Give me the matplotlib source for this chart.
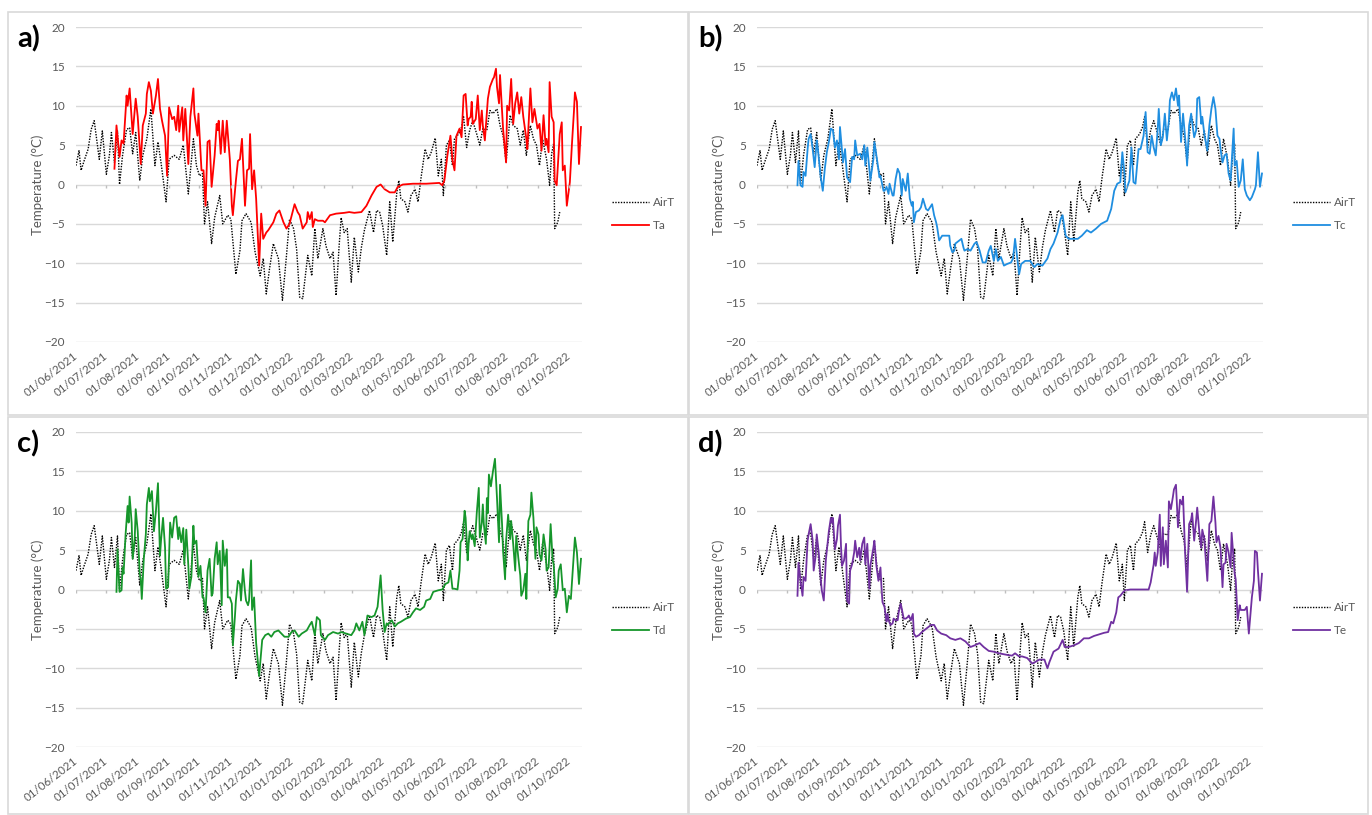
import numpy as np
import matplotlib
matplotlib.use("Agg")
import matplotlib.pyplot as plt
from matplotlib.patches import Rectangle

plt.rcParams["font.family"] = ["Lato", "DejaVu Sans"]

# all series; days counted from 01/06/2021
START = np.datetime64("2021-06-01")

airt_day = [0, 3, 5, 8, 12, 15, 18, 23, 26, 30, 33, 35, 38, 41, 43, 46, 50, 53, 56, 59,
            63, 66, 70, 74, 78, 81, 84, 89, 92, 97, 102, 106, 111, 116, 119, 122, 125, 127, 130, 134,
            137, 142, 145, 150, 153, 158, 162, 164, 168, 173, 177, 182, 185, 188, 191, 195, 200, 204, 208, 211,
            215, 218, 221, 224, 229, 233, 236, 239, 244, 247, 251, 254, 257, 260, 262, 265, 268, 272, 275, 279,
            282, 285, 290, 294, 297, 300, 303, 307, 310, 313, 317, 319, 321, 325, 328, 331, 335, 338, 341, 345,
            348, 351, 355, 358, 361, 363, 366, 369, 372, 374, 378, 381, 383, 386, 389, 392, 396, 399, 402, 406,
            409, 412, 416, 419, 422, 425, 429, 432, 436, 439, 442, 445, 449, 452, 455, 458, 461, 465, 468, 470,
            472, 473, 476, 478]
airt_val = [2.4, 4.3, 1.8, 3.0, 4.5, 7.0, 8.1, 3.2, 6.8, 1.3, 3.7, 6.6, 2.8, 6.8, 0.0, 3.7, 7.0, 7.2, 3.9, 6.6,
            0.5, 3.7, 5.8, 9.6, 2.4, 5.4, 2.8, -2.2, 3.2, 3.7, 3.2, 5.0, -1.2, 5.8, 2.4, 1.1, 1.4, -5.0, -2.2, -7.5,
            -4.2, -1.4, -5.0, -3.9, -4.4, -11.4, -8.4, -4.6, -3.7, -4.8, -8.6, -11.6, -9.4, -13.9, -10.9, -7.5, -9.4, -14.7, -9.0, -4.4,
            -5.6, -8.2, -14.3, -14.5, -9.0, -11.6, -5.6, -9.4, -5.6, -7.8, -9.4, -8.6, -14.1, -7.8, -4.2, -6.1, -5.6, -12.4, -6.7, -11.1,
            -8.0, -5.8, -3.3, -6.1, -3.3, -3.5, -5.2, -9.0, -2.2, -7.3, -1.0, 0.5, -1.8, -2.2, -3.5, -1.4, -0.6, -2.2, 0.9, 4.5,
            3.2, 4.1, 5.9, 1.1, 3.2, -1.4, 5.0, 5.6, 2.4, 5.8, 6.4, 7.3, 8.6, 4.7, 6.9, 8.1, 6.4, 5.0, 7.1, 6.9,
            9.4, 9.0, 9.6, 7.5, 6.2, 2.8, 8.8, 7.5, 7.1, 5.0, 6.9, 3.7, 7.5, 5.8, 5.0, 2.4, 5.8, 3.2, -0.1, 3.9,
            5.2, -5.6, -4.8, -3.5]

ta_day = [38, 40, 43, 45, 47, 50, 51, 53, 55, 56, 59, 61, 63, 64, 66, 69, 70, 72, 74, 76,
          79, 81, 83, 85, 88, 90, 92, 95, 97, 99, 101, 102, 105, 106, 108, 111, 113, 116, 117, 120,
          121, 124, 126, 128, 130, 132, 134, 137, 139, 140, 141, 143, 145, 147, 149, 152, 154, 155, 158, 160,
          162, 164, 167, 169, 171, 172, 174, 176, 178, 181, 183, 185, 188, 190, 195, 198, 201, 205, 208, 211,
          216, 219, 221, 224, 228, 229, 231, 233, 234, 236, 239, 244, 246, 251, 257, 265, 270, 275, 282, 287,
          292, 297, 301, 305, 310, 315, 318, 323, 333, 346, 359, 362, 364, 367, 370, 372, 374, 376, 379, 381,
          383, 385, 387, 388, 390, 391, 392, 395, 397, 399, 401, 402, 404, 407, 409, 412, 413, 415, 416, 418,
          419, 421, 422, 425, 426, 428, 430, 432, 434, 436, 438, 440, 442, 445, 446, 449, 451, 453, 456, 458,
          460, 462, 464, 465, 467, 468, 470, 472, 473, 475, 478, 480, 481, 483, 485, 488, 490, 492, 493, 495,
          497, 499]
ta_val = [2.0, 7.5, 3.5, 5.6, 5.2, 11.3, 10.0, 12.2, 8.3, 6.4, 10.9, 8.6, 4.7, 2.6, 7.5, 9.0, 11.5, 13.0, 11.9, 9.0,
          11.3, 13.4, 9.6, 8.1, 6.2, 1.1, 9.8, 8.3, 8.6, 6.9, 10.0, 6.7, 9.8, 5.6, 9.6, 2.6, 8.6, 12.2, 9.0, 6.2,
          9.0, 1.8, 1.8, -2.7, 5.4, 5.6, -0.3, 3.7, 7.7, 6.9, 8.1, 3.9, 8.1, 4.1, 8.1, 3.2, -2.7, -3.9, 0.5, 3.0,
          3.2, 5.8, -2.7, 1.8, 2.0, 6.4, -0.6, 1.8, -1.8, -10.3, -3.7, -6.9, -6.1, -5.8, -4.8, -3.7, -3.3, -4.8, -5.6, -5.0,
          -2.5, -3.5, -3.9, -5.6, -4.8, -3.5, -4.4, -3.5, -5.4, -4.4, -4.6, -4.6, -4.8, -3.9, -3.7, -3.6, -3.5, -3.6, -3.5, -2.7,
          -1.4, -0.3, 0.0, -0.6, -1.0, -1.0, -0.3, 0.0, 0.1, 0.1, 0.2, -0.1, 0.5, 3.7, 6.2, 3.1, 1.8, 6.2, 7.1, 6.0,
          11.3, 11.5, 7.5, 8.3, 8.6, 10.5, 7.7, 8.3, 11.3, 6.9, 9.4, 7.5, 5.6, 10.9, 12.4, 13.4, 13.6, 14.7, 12.4, 10.3,
          13.9, 9.2, 7.1, 2.8, 10.0, 9.4, 13.4, 7.7, 10.3, 11.7, 9.0, 11.1, 8.6, 5.8, 4.5, 12.2, 7.9, 9.6, 7.1, 7.7,
          4.3, 8.8, 5.0, 5.8, 4.1, 13.0, 8.6, 7.9, 0.5, -0.1, 6.4, 7.9, 1.8, 2.4, -2.7, 0.3, 5.0, 9.2, 11.7, 10.5,
          2.6, 7.3]

tc_day = [40, 41, 43, 45, 46, 48, 50, 51, 53, 55, 57, 59, 60, 63, 65, 67, 69, 71, 73, 75,
          77, 79, 81, 82, 84, 85, 87, 89, 92, 94, 96, 97, 99, 102, 104, 106, 107, 109, 111, 112,
          115, 116, 119, 121, 122, 125, 126, 128, 130, 131, 134, 135, 137, 139, 141, 143, 144, 147, 149, 151,
          153, 154, 155, 157, 160, 162, 164, 167, 169, 171, 173, 175, 177, 178, 180, 182, 183, 186, 188, 190,
          191, 193, 195, 196, 200, 202, 204, 205, 208, 211, 215, 217, 220, 223, 226, 229, 231, 234, 236, 238,
          241, 244, 247, 251, 253, 255, 256, 259, 261, 265, 270, 274, 277, 282, 287, 290, 293, 297, 300, 302,
          303, 305, 308, 313, 317, 321, 326, 330, 335, 340, 346, 350, 353, 356, 359, 361, 363, 364, 368, 370,
          372, 374, 377, 379, 382, 384, 386, 388, 390, 392, 394, 396, 397, 399, 401, 403, 405, 407, 408, 410,
          412, 414, 416, 417, 419, 421, 422, 424, 425, 427, 429, 430, 432, 434, 435, 437, 439, 440, 442, 445,
          447, 449, 451, 453, 455, 457, 458, 460, 462, 464, 466, 468, 471, 472, 474, 476, 478, 480, 482, 484,
          487, 489, 492, 493, 495, 497, 499]
tc_val = [-0.1, 3.0, -0.1, -0.3, 1.6, 1.1, 4.5, 5.8, 6.4, 4.5, 2.2, 5.6, 4.7, 0.9, -0.8, 2.0, 4.1, 5.4, 7.1, 6.9,
          4.7, 5.6, 3.2, 7.3, 4.3, 2.8, 4.5, 0.9, 0.3, 3.5, 3.2, 5.6, 3.7, 3.9, 3.2, 5.0, 2.4, 4.7, 2.0, 0.5,
          3.2, 5.4, 2.8, 0.9, 1.1, -0.8, -0.8, -0.3, -1.2, 0.1, -1.4, -1.4, 0.7, 2.0, 1.4, -1.4, 0.7, -0.8, 1.4, -1.8,
          -2.7, -2.2, -4.8, -3.5, -3.3, -2.9, -1.8, -3.1, -3.3, -2.9, -2.5, -3.9, -4.8, -5.4, -7.1, -6.7, -6.5, -6.5, -6.5, -6.5,
          -7.8, -8.6, -8.4, -7.5, -7.1, -6.9, -8.0, -8.4, -8.2, -8.4, -7.5, -7.3, -8.4, -9.9, -9.9, -8.4, -7.8, -9.7, -8.2, -9.7,
          -9.2, -10.3, -10.1, -9.9, -9.4, -6.9, -8.0, -11.4, -10.1, -9.7, -9.7, -10.5, -10.1, -10.3, -9.4, -8.2, -7.5, -6.1, -4.4, -3.9,
          -4.8, -6.5, -6.9, -6.9, -6.9, -6.5, -5.8, -6.1, -5.6, -5.0, -4.6, -3.1, -0.8, 0.1, 0.3, 4.1, 1.6, -1.0, 0.5, 4.7,
          0.3, 0.1, 4.5, 4.5, 6.2, 9.2, 4.1, 3.9, 6.2, 4.7, 3.7, 7.1, 9.6, 5.0, 6.0, 9.0, 5.6, 8.1, 10.7, 11.7,
          10.7, 12.2, 10.0, 11.3, 5.4, 9.0, 7.5, 4.5, 2.4, 7.5, 9.0, 7.9, 6.0, 6.9, 10.9, 11.1, 7.7, 8.6, 6.4, 4.3,
          7.5, 9.6, 11.1, 9.6, 6.2, 5.8, 4.5, 2.8, 3.7, 3.9, 1.4, 0.5, 7.1, 2.4, 3.0, -0.3, 0.5, 3.2, -0.6, -1.4,
          -2.0, -1.6, -0.6, -0.1, 4.1, -0.3, 1.4]

td_day = [40, 41, 43, 45, 46, 47, 49, 51, 52, 53, 55, 56, 58, 59, 61, 63, 64, 65, 67, 69,
          70, 72, 73, 75, 77, 79, 81, 83, 84, 86, 88, 89, 91, 93, 95, 97, 99, 101, 102, 104,
          106, 107, 109, 111, 112, 114, 116, 117, 119, 121, 123, 125, 126, 128, 130, 132, 134, 135, 137, 139,
          140, 142, 144, 145, 147, 149, 150, 152, 154, 155, 157, 158, 160, 162, 163, 165, 167, 168, 170, 171,
          173, 174, 176, 177, 178, 181, 182, 184, 187, 190, 193, 196, 200, 203, 206, 210, 213, 216, 220, 223,
          228, 231, 233, 236, 238, 241, 242, 246, 249, 254, 259, 262, 267, 272, 275, 277, 280, 283, 285, 288,
          292, 295, 298, 301, 303, 305, 307, 308, 312, 315, 318, 321, 326, 330, 333, 336, 340, 344, 346, 350,
          353, 358, 362, 365, 368, 370, 372, 374, 377, 379, 380, 382, 384, 385, 387, 388, 389, 391, 392, 394,
          396, 398, 399, 401, 402, 403, 405, 406, 407, 408, 410, 412, 413, 414, 416, 418, 419, 421, 422, 424,
          425, 427, 429, 430, 432, 434, 435, 437, 439, 440, 442, 444, 445, 447, 449, 450, 452, 454, 455, 457,
          458, 460, 462, 464, 465, 467, 469, 471, 472, 474, 476, 477, 479, 481, 483, 485, 487, 489, 491, 493,
          495, 497, 499]
td_val = [-0.3, 5.1, -0.3, -0.1, 2.8, 2.0, 7.0, 10.6, 8.5, 11.8, 8.5, 3.9, 6.4, 10.2, 7.4, 2.0, 1.3, -1.2, 3.9, 7.0,
          10.8, 12.9, 11.2, 12.5, 7.4, 10.0, 13.5, 4.3, 6.2, 9.1, 5.3, 0.1, 0.3, 8.5, 6.6, 9.1, 9.3, 6.4, 7.9, 6.0,
          7.8, 3.2, 7.6, 3.0, 0.1, 1.6, 8.1, 5.8, 6.2, 1.6, 3.0, -1.0, -1.0, -2.9, 2.4, 3.9, -0.8, -0.5, 3.9, 6.0,
          3.2, 4.9, -2.0, 6.2, 3.0, 5.1, -1.0, -1.0, -1.8, -7.1, -3.5, -1.4, 1.1, 0.7, -1.4, 2.6, -0.3, -1.4, -2.0, -1.4,
          3.7, -2.6, -1.0, -3.9, -6.8, -11.0, -9.4, -6.4, -5.8, -5.6, -6.0, -5.4, -5.2, -5.6, -6.0, -6.0, -5.4, -5.2, -6.0, -5.6,
          -5.2, -4.5, -4.1, -5.8, -3.5, -3.9, -5.8, -6.4, -5.8, -5.4, -5.6, -5.4, -5.6, -5.8, -5.2, -4.3, -5.2, -4.1, -5.8, -3.3,
          -3.5, -3.3, -2.2, 1.8, -2.6, -5.4, -4.3, -4.5, -3.9, -4.7, -4.3, -4.1, -3.7, -3.5, -2.9, -2.4, -2.6, -2.2, -1.4, -1.2,
          -0.3, -0.1, 0.0, 0.7, 0.9, 2.4, 0.1, 0.1, 0.0, 2.4, 6.0, 6.4, 10.0, 9.1, 3.7, 5.8, 7.4, 6.4, 7.0, 5.5,
          9.7, 12.9, 6.6, 8.5, 10.8, 8.3, 5.8, 11.6, 9.7, 14.6, 13.1, 15.0, 15.8, 16.6, 11.6, 6.0, 13.3, 8.3, 4.9, 1.3,
          6.2, 9.5, 6.4, 8.7, 5.8, 2.4, 6.8, 4.1, 1.8, -0.8, -0.1, 2.0, -1.2, 8.7, 9.5, 12.3, 9.1, 3.9, 7.9, 7.0,
          4.5, 3.7, 7.0, 5.1, 2.4, 2.8, 8.3, 3.7, 3.2, -1.0, 0.1, 2.4, 3.2, -0.1, 0.1, -2.9, -0.8, -1.2, 2.8, 6.6,
          4.7, 0.7, 3.9]

te_day = [40, 41, 43, 45, 46, 48, 50, 51, 53, 55, 56, 58, 59, 61, 63, 64, 66, 68, 69, 71,
          73, 74, 75, 77, 79, 80, 82, 83, 84, 86, 88, 89, 91, 92, 94, 96, 97, 99, 101, 102,
          104, 106, 107, 109, 111, 112, 115, 116, 118, 120, 122, 123, 124, 126, 128, 129, 130, 132, 134, 135,
          137, 139, 140, 142, 144, 145, 147, 149, 150, 152, 154, 155, 157, 160, 163, 167, 172, 175, 178, 182,
          187, 191, 196, 201, 206, 211, 215, 220, 224, 229, 234, 239, 247, 252, 255, 259, 262, 267, 272, 275,
          279, 284, 287, 289, 293, 298, 302, 304, 308, 313, 318, 323, 328, 333, 338, 343, 347, 350, 352, 355,
          357, 359, 362, 364, 369, 376, 383, 387, 389, 392, 393, 394, 396, 398, 399, 401, 402, 404, 406, 407,
          409, 411, 412, 414, 416, 418, 420, 421, 423, 425, 427, 429, 430, 432, 434, 435, 437, 439, 440, 442,
          445, 447, 449, 451, 453, 454, 456, 458, 460, 461, 463, 464, 466, 468, 469, 472, 473, 475, 477, 478,
          480, 482, 484, 486, 488, 489, 491, 492, 494, 495, 497, 499]
te_val = [-0.8, 3.4, 1.1, -0.8, 1.6, 1.1, 6.2, 7.0, 8.3, 6.2, 2.4, 4.3, 7.0, 4.7, 1.3, -0.1, -1.4, 3.7, 4.9, 7.4,
          9.1, 8.5, 9.1, 5.1, 6.4, 8.1, 9.5, 5.5, 3.0, 3.7, 5.8, -1.4, -1.8, 2.4, 3.2, 4.7, 6.2, 4.1, 5.3, 3.7,
          5.8, 6.6, 3.2, 5.8, 0.1, 3.0, 5.3, 6.2, 3.0, 1.1, 2.8, 0.3, -1.6, -2.2, -4.1, -3.1, -3.9, -4.5, -4.3, -3.7,
          -3.9, -3.9, -2.9, -1.8, -3.1, -3.7, -3.7, -3.5, -3.3, -3.9, -3.1, -5.6, -6.0, -5.8, -5.4, -5.0, -4.5, -4.5, -5.2, -5.6,
          -5.8, -6.2, -6.4, -6.2, -6.6, -7.3, -7.1, -6.8, -7.3, -7.8, -7.9, -8.1, -8.3, -8.4, -8.1, -8.5, -8.5, -8.7, -9.4, -9.2,
          -8.9, -8.9, -10.0, -9.2, -7.9, -7.5, -6.4, -7.3, -7.3, -7.1, -6.8, -6.2, -6.2, -5.9, -5.7, -5.5, -5.4, -4.1, -4.3, -2.9,
          -1.0, -0.8, -0.3, -0.1, 0.0, 0.0, 0.0, 0.0, 0.9, 3.2, 4.7, 3.0, 4.7, 9.5, 3.0, 7.9, 3.2, 6.2, 2.8, 11.2,
          10.2, 11.8, 12.7, 13.3, 7.9, 11.4, 10.8, 11.8, 4.7, -0.3, 8.3, 8.9, 9.7, 6.2, 8.9, 10.4, 7.4, 5.3, 7.6, 6.4,
          1.1, 8.3, 8.7, 11.8, 8.5, 6.0, 6.8, 5.3, 0.3, 3.2, 3.4, 5.8, 4.7, 2.8, 7.2, 2.0, 1.3, -3.9, -2.0, -2.6,
          -2.6, -2.6, -2.2, -5.6, -2.6, -1.0, 1.1, 4.9, 4.7, 2.4, -1.4, 2.0]

panel_tags = ["a)", "b)", "c)", "d)"]
series_names = ["Ta", "Tc", "Td", "Te"]
series_days = [ta_day, tc_day, td_day, te_day]
series_vals = [ta_val, tc_val, td_val, te_val]
series_colors = ["#ff0000", "#1f8ee0", "#16962b", "#7030a0"]

month_ticks = np.arange(np.datetime64("2021-06"), np.datetime64("2022-11"),
                        dtype="datetime64[M]").astype("datetime64[D]")
month_labels = [str(m)[8:10] + "/" + str(m)[5:7] + "/" + str(m)[0:4] for m in month_ticks]


def to_dates(days):
    return START + np.array(days, dtype="timedelta64[D]")


W, H = 1372, 815
fig = plt.figure(figsize=(W / 100, H / 100), dpi=100)

# panel frames in pixels: left, top, width, height
boxes = [(8, 12, 680, 403), (689, 12, 679, 403), (8, 417, 680, 397), (689, 417, 679, 397)]

for i, (bx, by, bw, bh) in enumerate(boxes):
    fig.add_artist(Rectangle((bx / W, 1 - (by + bh) / H), bw / W, bh / H,
                             transform=fig.transFigure, fill=False,
                             edgecolor="#d9d9d9", lw=1.2))
    fig.text((bx + 9) / W, 1 - (by + 27) / H, panel_tags[i], fontsize=21,
             fontweight="bold", ha="left", va="center", color="black")

    ax = fig.add_axes([(bx + 68) / W, 1 - (by + 330) / H, 506 / W, 315 / H])
    ax.plot(to_dates(airt_day), airt_val, color="black", lw=1.0,
            linestyle=(0, (1, 1)), label="AirT")
    ax.plot(to_dates(series_days[i]), series_vals[i], color=series_colors[i],
            lw=1.3, label=series_names[i])

    ax.set_ylim(-20, 20)
    ax.set_xlim(START, START + np.timedelta64(500, "D"))
    ax.set_yticks(np.arange(-20, 21, 5))
    ax.yaxis.grid(True, color="#d9d9d9", lw=1)
    ax.set_axisbelow(True)
    for sp in ax.spines.values():
        sp.set_visible(False)
    # horizontal axis sits on 0 with small tick marks
    ax.vlines(month_ticks, -0.45, 0, color="#bfbfbf", lw=1)
    ax.set_xticks(month_ticks)
    ax.set_xticklabels(month_labels, rotation=38, ha="right", va="center",
                       rotation_mode="anchor", fontsize=8.3, color="#595959")
    ax.tick_params(axis="x", length=0, pad=9)
    ax.tick_params(axis="y", length=0, pad=8, labelsize=8.5, labelcolor="#595959")
    ax.set_ylabel("Temperature (°C)", fontsize=9.5, color="#595959", labelpad=0)

    leg = ax.legend(loc="center left", bbox_to_anchor=(1.06, 0.406), frameon=False,
                    fontsize=8.5, handlelength=3.1, handletextpad=0.35,
                    labelspacing=1.0, borderaxespad=0, borderpad=0)
    for t in leg.get_texts():
        t.set_color("#595959")

fig.savefig("out.png", dpi=100)
